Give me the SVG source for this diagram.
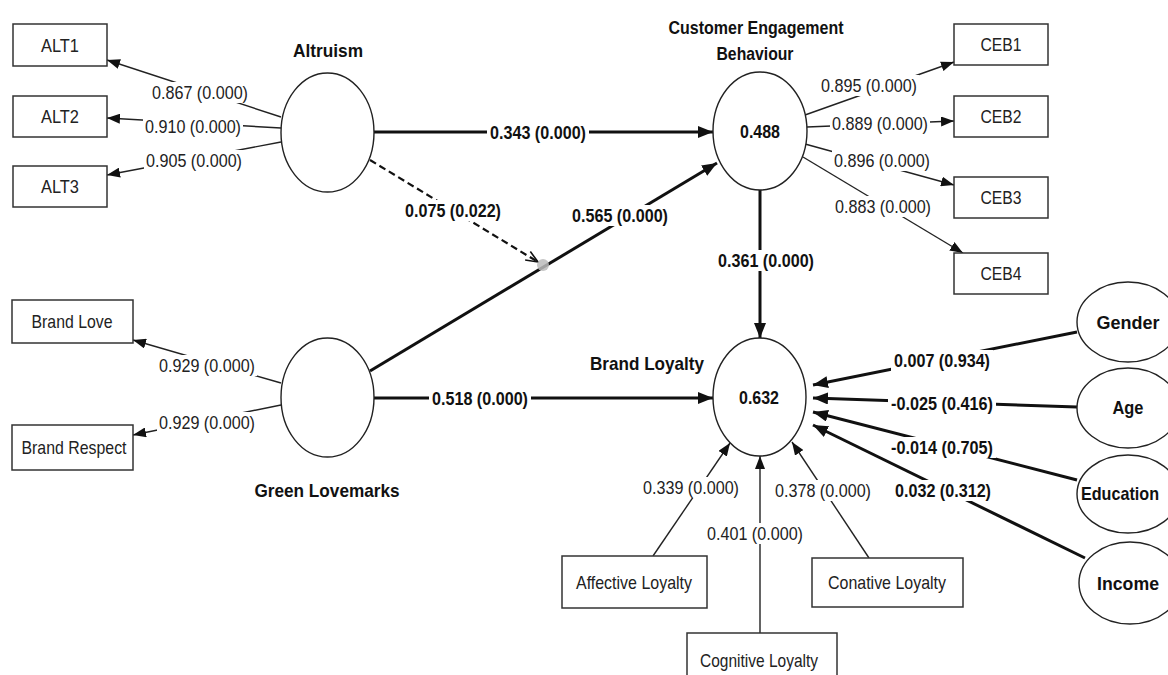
<svg xmlns="http://www.w3.org/2000/svg" width="1168" height="675" viewBox="0 0 1168 675">
<style>
  .box { fill: #fff; stroke: #333; stroke-width: 1.5; }
  .ell { fill: #fff; stroke: #222; stroke-width: 1.4; }
  .t { font-family: "Liberation Sans", Arial, sans-serif; font-size: 19px; fill: #222; text-anchor: middle; }
  .b { font-weight: bold; fill: #111; }
  .title { font-family: "Liberation Sans", Arial, sans-serif; font-size: 19px; font-weight: bold; fill: #111; text-anchor: middle; }
  .thin { stroke: #222; stroke-width: 1.4; fill: none; }
  .thick { stroke: #111; stroke-width: 3; fill: none; }
  .dash { stroke: #111; stroke-width: 2.2; stroke-dasharray: 7 4; fill: none; }
  .lbg { fill: #fff; }
</style>
<defs>
  <marker id="ah" viewBox="0 0 15 12" refX="15" refY="6" markerWidth="15" markerHeight="12" orient="auto" markerUnits="userSpaceOnUse">
    <path d="M0,0 L15,6 L0,12 z" fill="#111"/>
  </marker>
  <marker id="ahs" viewBox="0 0 13 10" refX="13" refY="5" markerWidth="13" markerHeight="10" orient="auto" markerUnits="userSpaceOnUse">
    <path d="M0,0 L13,5 L0,10 z" fill="#111"/>
  </marker>
  <marker id="ahopen" viewBox="0 0 14 12" refX="13" refY="6" markerWidth="14" markerHeight="12" orient="auto" markerUnits="userSpaceOnUse">
    <path d="M1,1 L13,6 L1,11" fill="none" stroke="#111" stroke-width="1.6"/>
  </marker>
</defs>
<rect width="1168" height="675" fill="#fff"/>

<g id="connectors">
  <!-- Altruism loadings -->
  <line class="thin" x1="281" y1="117" x2="107" y2="60" marker-end="url(#ahs)"/>
  <line class="thin" x1="281" y1="128" x2="107" y2="118" marker-end="url(#ahs)"/>
  <line class="thin" x1="281" y1="142" x2="107" y2="175" marker-end="url(#ahs)"/>
  <!-- Green Lovemarks loadings -->
  <line class="thin" x1="281" y1="383" x2="133" y2="340" marker-end="url(#ahs)"/>
  <line class="thin" x1="281" y1="405" x2="133" y2="435" marker-end="url(#ahs)"/>
  <!-- CEB loadings -->
  <line class="thin" x1="805" y1="115" x2="954" y2="62" marker-end="url(#ahs)"/>
  <line class="thin" x1="807" y1="127" x2="954" y2="121" marker-end="url(#ahs)"/>
  <line class="thin" x1="805" y1="144" x2="954" y2="185" marker-end="url(#ahs)"/>
  <line class="thin" x1="803" y1="157" x2="963" y2="253" marker-end="url(#ahs)"/>
  <!-- Brand Loyalty formative indicators -->
  <line class="thin" x1="653" y1="556" x2="730" y2="443" marker-end="url(#ahs)"/>
  <line class="thin" x1="760" y1="633" x2="760" y2="456" marker-end="url(#ahs)"/>
  <line class="thin" x1="869" y1="558" x2="792" y2="442" marker-end="url(#ahs)"/>
  <!-- Structural paths -->
  <line class="thick" x1="374" y1="132" x2="713" y2="132" marker-end="url(#ah)"/>
  <line class="thick" x1="370" y1="371" x2="717" y2="163" marker-end="url(#ah)"/>
  <line class="thick" x1="374" y1="398" x2="713" y2="398" marker-end="url(#ah)"/>
  <line class="thick" x1="760" y1="190" x2="760" y2="338" marker-end="url(#ah)"/>
  <line class="dash" x1="370" y1="160" x2="538" y2="262" marker-end="url(#ahopen)"/>
  <circle cx="543" cy="265" r="6" fill="#bbb" opacity="0.85"/>
  <!-- Control paths -->
  <line class="thick" x1="1077" y1="332" x2="813" y2="385" marker-end="url(#ah)"/>
  <line class="thick" x1="1077" y1="407" x2="813" y2="398" marker-end="url(#ah)"/>
  <line class="thick" x1="1077" y1="480" x2="813" y2="412" marker-end="url(#ah)"/>
  <line class="thick" x1="1085" y1="558" x2="813" y2="425" marker-end="url(#ah)"/>

  <!-- label backgrounds -->
  <rect class="lbg" x="150" y="82" width="100" height="21"/>
  <rect class="lbg" x="143" y="116" width="100" height="21"/>
  <rect class="lbg" x="144" y="150" width="100" height="21"/>
  <rect class="lbg" x="157" y="355" width="100" height="21"/>
  <rect class="lbg" x="157" y="412" width="100" height="21"/>
  <rect class="lbg" x="819" y="75" width="100" height="21"/>
  <rect class="lbg" x="830" y="113" width="100" height="21"/>
  <rect class="lbg" x="832" y="150" width="100" height="21"/>
  <rect class="lbg" x="833" y="196" width="100" height="21"/>
  <rect class="lbg" x="641" y="477" width="100" height="21"/>
  <rect class="lbg" x="705" y="523" width="100" height="21"/>
  <rect class="lbg" x="773" y="480" width="100" height="21"/>
  <rect class="lbg" x="487" y="122" width="102" height="21"/>
  <rect class="lbg" x="569" y="205" width="102" height="21"/>
  <rect class="lbg" x="429" y="388" width="102" height="21"/>
  <rect class="lbg" x="715" y="250" width="102" height="21"/>
  <rect class="lbg" x="402" y="200" width="102" height="21"/>
  <rect class="lbg" x="891" y="350" width="102" height="21"/>
  <rect class="lbg" x="888" y="393" width="108" height="21"/>
  <rect class="lbg" x="888" y="437" width="108" height="21"/>
  <rect class="lbg" x="892" y="480" width="102" height="21"/>

  <!-- labels -->
  <text class="t" x="200" y="99" textLength="96" lengthAdjust="spacingAndGlyphs">0.867 (0.000)</text>
  <text class="t" x="193" y="133" textLength="96" lengthAdjust="spacingAndGlyphs">0.910 (0.000)</text>
  <text class="t" x="194" y="167" textLength="96" lengthAdjust="spacingAndGlyphs">0.905 (0.000)</text>
  <text class="t" x="207" y="372" textLength="96" lengthAdjust="spacingAndGlyphs">0.929 (0.000)</text>
  <text class="t" x="207" y="429" textLength="96" lengthAdjust="spacingAndGlyphs">0.929 (0.000)</text>
  <text class="t" x="869" y="92" textLength="96" lengthAdjust="spacingAndGlyphs">0.895 (0.000)</text>
  <text class="t" x="880" y="130" textLength="96" lengthAdjust="spacingAndGlyphs">0.889 (0.000)</text>
  <text class="t" x="882" y="167" textLength="96" lengthAdjust="spacingAndGlyphs">0.896 (0.000)</text>
  <text class="t" x="883" y="213" textLength="96" lengthAdjust="spacingAndGlyphs">0.883 (0.000)</text>
  <text class="t" x="691" y="494" textLength="96" lengthAdjust="spacingAndGlyphs">0.339 (0.000)</text>
  <text class="t" x="755" y="540" textLength="96" lengthAdjust="spacingAndGlyphs">0.401 (0.000)</text>
  <text class="t" x="823" y="497" textLength="96" lengthAdjust="spacingAndGlyphs">0.378 (0.000)</text>
  <text class="t b" x="538" y="139" textLength="96" lengthAdjust="spacingAndGlyphs">0.343 (0.000)</text>
  <text class="t b" x="620" y="222" textLength="96" lengthAdjust="spacingAndGlyphs">0.565 (0.000)</text>
  <text class="t b" x="480" y="405" textLength="96" lengthAdjust="spacingAndGlyphs">0.518 (0.000)</text>
  <text class="t b" x="766" y="267" textLength="96" lengthAdjust="spacingAndGlyphs">0.361 (0.000)</text>
  <text class="t b" x="453" y="217" textLength="96" lengthAdjust="spacingAndGlyphs">0.075 (0.022)</text>
  <text class="t b" x="942" y="367" textLength="96" lengthAdjust="spacingAndGlyphs">0.007 (0.934)</text>
  <text class="t b" x="942" y="410" textLength="102" lengthAdjust="spacingAndGlyphs">-0.025 (0.416)</text>
  <text class="t b" x="942" y="454" textLength="102" lengthAdjust="spacingAndGlyphs">-0.014 (0.705)</text>
  <text class="t b" x="943" y="497" textLength="96" lengthAdjust="spacingAndGlyphs">0.032 (0.312)</text>
</g>

<g id="ALT1"><rect class="box" x="13" y="24" width="94" height="42"/><text class="t" x="60" y="52" textLength="38" lengthAdjust="spacingAndGlyphs">ALT1</text></g>
<g id="ALT2"><rect class="box" x="13" y="96" width="94" height="41"/><text class="t" x="60" y="123" textLength="38" lengthAdjust="spacingAndGlyphs">ALT2</text></g>
<g id="ALT3"><rect class="box" x="13" y="166" width="94" height="41"/><text class="t" x="60" y="193" textLength="38" lengthAdjust="spacingAndGlyphs">ALT3</text></g>
<g id="BrandLove"><rect class="box" x="12" y="300" width="121" height="43"/><text class="t" x="72" y="328" textLength="81" lengthAdjust="spacingAndGlyphs">Brand Love</text></g>
<g id="BrandRespect"><rect class="box" x="12" y="425" width="121" height="45"/><text class="t" x="74" y="454" textLength="105" lengthAdjust="spacingAndGlyphs">Brand Respect</text></g>

<g id="Altruism">
  <ellipse class="ell" cx="327.5" cy="132.5" rx="46.5" ry="59.5"/>
  <text class="title" x="328" y="57" textLength="70" lengthAdjust="spacingAndGlyphs">Altruism</text>
</g>
<g id="GreenLovemarks">
  <ellipse class="ell" cx="327.5" cy="397.5" rx="46.5" ry="59.5"/>
  <text class="title" x="327" y="497" textLength="145" lengthAdjust="spacingAndGlyphs">Green Lovemarks</text>
</g>
<g id="CEB">
  <ellipse class="ell" cx="760" cy="131" rx="47" ry="59"/>
  <text class="t b" x="760" y="138" textLength="40" lengthAdjust="spacingAndGlyphs">0.488</text>
  <text class="title" x="756" y="34" textLength="175" lengthAdjust="spacingAndGlyphs">Customer Engagement</text>
  <text class="title" x="755" y="60" textLength="77" lengthAdjust="spacingAndGlyphs">Behaviour</text>
</g>
<g id="BrandLoyalty">
  <ellipse class="ell" cx="759.5" cy="397" rx="46.5" ry="59"/>
  <text class="t b" x="759" y="404" textLength="40" lengthAdjust="spacingAndGlyphs">0.632</text>
  <text class="title" x="647" y="370" textLength="114" lengthAdjust="spacingAndGlyphs">Brand Loyalty</text>
</g>

<g id="CEB1"><rect class="box" x="954" y="24" width="94" height="41"/><text class="t" x="1001" y="51" textLength="41" lengthAdjust="spacingAndGlyphs">CEB1</text></g>
<g id="CEB2"><rect class="box" x="954" y="96" width="94" height="41"/><text class="t" x="1001" y="123" textLength="41" lengthAdjust="spacingAndGlyphs">CEB2</text></g>
<g id="CEB3"><rect class="box" x="954" y="177" width="94" height="41"/><text class="t" x="1001" y="204" textLength="41" lengthAdjust="spacingAndGlyphs">CEB3</text></g>
<g id="CEB4"><rect class="box" x="954" y="253" width="94" height="41"/><text class="t" x="1001" y="280" textLength="41" lengthAdjust="spacingAndGlyphs">CEB4</text></g>

<g id="AffectiveLoyalty"><rect class="box" x="562" y="556" width="145" height="52"/><text class="t" x="634" y="589" textLength="116" lengthAdjust="spacingAndGlyphs">Affective Loyalty</text></g>
<g id="CognitiveLoyalty"><rect class="box" x="687" y="633" width="150" height="60"/><text class="t" x="759" y="667" textLength="118" lengthAdjust="spacingAndGlyphs">Cognitive Loyalty</text></g>
<g id="ConativeLoyalty"><rect class="box" x="812" y="558" width="151" height="49"/><text class="t" x="887" y="589" textLength="118" lengthAdjust="spacingAndGlyphs">Conative Loyalty</text></g>

<g id="Gender"><ellipse class="ell" cx="1128" cy="322" rx="51" ry="40"/><text class="title" x="1128" y="329" textLength="63" lengthAdjust="spacingAndGlyphs">Gender</text></g>
<g id="Age"><ellipse class="ell" cx="1128" cy="408" rx="51" ry="40"/><text class="title" x="1128" y="414" textLength="31" lengthAdjust="spacingAndGlyphs">Age</text></g>
<g id="Education"><ellipse class="ell" cx="1128" cy="494" rx="51" ry="39"/><text class="title" x="1120" y="500" textLength="78" lengthAdjust="spacingAndGlyphs">Education</text></g>
<g id="Income"><ellipse class="ell" cx="1130" cy="583" rx="51" ry="41"/><text class="title" x="1128" y="590" textLength="62" lengthAdjust="spacingAndGlyphs">Income</text></g>
</svg>
